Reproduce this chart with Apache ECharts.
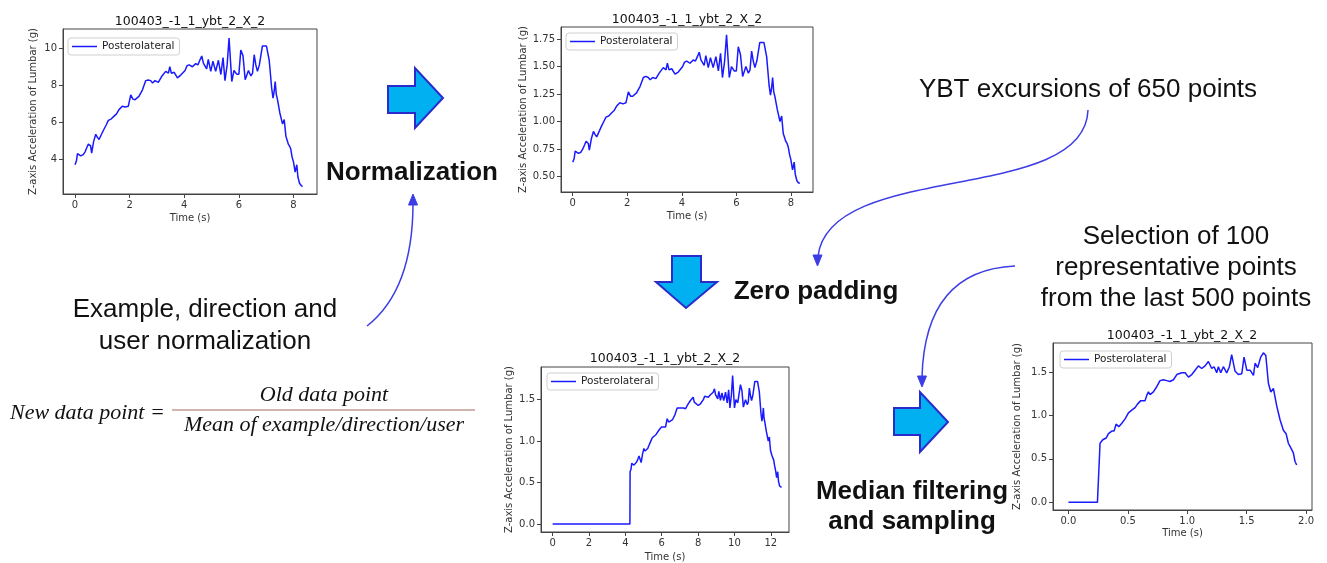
<!DOCTYPE html>
<html>
<head>
<meta charset="utf-8">
<script src="https://cdn.jsdelivr.net/npm/echarts@6/dist/echarts.min.js"></script>
<style>
  html, body { margin: 0; padding: 0; background: #fff; }
  #chart { width: 1327px; height: 563px; }
</style>
</head>
<body>
<div id="chart"></div>
<script>
// ---- labels ----
const panelTitle = '100403_-1_1_ybt_2_X_2';
const seriesName = 'Posterolateral';
const xName = 'Time (s)';
const yName = 'Z-axis Acceleration of Lumbar (g)';

// ---- raw excursion (time in s), shared by the raw and the normalized panel ----
const rawTime = [0.00,0.05,0.09,0.21,0.30,0.37,0.44,0.49,0.57,0.61,0.68,0.76,0.82,0.88,0.97,1.06,1.14,1.22,1.32,1.43,
  1.52,1.61,1.73,1.84,1.95,2.04,2.12,2.20,2.34,2.47,2.59,2.68,2.77,2.84,2.93,3.05,3.17,3.32,3.42,3.47,
  3.53,3.63,3.75,3.87,4.03,4.10,4.18,4.30,4.42,4.50,4.57,4.64,4.70,4.76,4.82,4.88,4.97,5.05,5.15,5.25,
  5.34,5.42,5.49,5.57,5.64,5.74,5.82,5.92,6.00,6.07,6.15,6.23,6.35,6.44,6.50,6.56,6.62,6.68,6.75,6.86,
  7.01,7.11,7.20,7.25,7.29,7.33,7.37,7.41,7.50,7.60,7.66,7.72,7.81,7.86,7.90,7.95,8.00,8.06,8.12,8.16,
  8.22,8.28,8.33];

// raw lumbar z-acceleration (g)
const rawAccel = [3.70,3.90,4.30,4.18,4.25,4.40,4.66,4.82,4.72,4.33,4.95,5.35,5.18,5.07,5.35,5.62,5.85,6.10,6.17,6.33,
  6.45,6.68,6.86,6.82,6.86,7.48,7.25,7.22,7.40,7.75,8.25,8.28,8.25,8.12,8.25,8.15,8.47,8.75,8.65,9.00,
  8.65,8.70,8.40,8.55,8.80,9.05,9.10,9.00,9.17,9.10,9.35,9.58,9.20,9.10,8.88,9.40,8.75,9.30,8.75,9.35,
  8.58,9.50,8.25,9.10,10.55,8.20,8.80,8.60,8.60,9.90,9.60,8.30,8.80,8.50,8.65,9.65,9.10,8.75,9.10,10.12,
  10.12,9.35,7.85,7.30,7.65,8.20,7.50,7.25,6.50,5.90,6.15,5.25,4.82,4.70,4.55,4.10,3.85,3.30,3.70,3.05,
  2.70,2.58,2.52];

// normalized acceleration
const normAccel = [0.63,0.66,0.73,0.71,0.72,0.75,0.79,0.82,0.80,0.74,0.84,0.91,0.88,0.86,0.91,0.96,1.00,1.04,1.05,1.08,
  1.10,1.14,1.17,1.16,1.17,1.27,1.23,1.23,1.26,1.32,1.40,1.41,1.40,1.38,1.40,1.39,1.44,1.49,1.47,1.53,
  1.47,1.48,1.43,1.45,1.50,1.54,1.55,1.53,1.56,1.55,1.59,1.63,1.56,1.55,1.51,1.60,1.49,1.58,1.49,1.59,
  1.46,1.62,1.40,1.55,1.79,1.40,1.50,1.46,1.46,1.68,1.61,1.41,1.50,1.44,1.47,1.64,1.55,1.49,1.55,1.72,
  1.72,1.59,1.33,1.24,1.30,1.40,1.27,1.23,1.11,1.00,1.05,0.89,0.82,0.80,0.77,0.70,0.65,0.56,0.63,0.52,
  0.46,0.44,0.44];

// zero-padded excursion
const paddedTime = [0.00,4.25,
  4.26,4.31,4.35,4.47,4.56,4.63,4.70,4.75,4.83,4.87,4.94,5.02,5.08,5.14,5.23,5.32,5.40,5.48,5.58,5.69,
  5.78,5.87,5.99,6.10,6.21,6.30,6.38,6.46,6.60,6.73,6.85,6.94,7.03,7.10,7.19,7.31,7.43,7.58,7.68,7.73,
  7.79,7.89,8.01,8.13,8.29,8.36,8.44,8.56,8.68,8.76,8.83,8.90,8.96,9.02,9.08,9.14,9.23,9.31,9.41,9.51,
  9.60,9.68,9.75,9.83,9.90,10.00,10.08,10.18,10.26,10.33,10.41,10.49,10.61,10.70,10.76,10.82,10.88,10.94,11.01,11.12,
  11.27,11.37,11.46,11.51,11.55,11.59,11.63,11.67,11.76,11.86,11.92,11.98,12.07,12.12,12.16,12.21,12.26,12.32,12.38,12.42,
  12.48,12.54,12.59];
const paddedAccel = [0,0,
  0.63,0.66,0.73,0.71,0.72,0.75,0.79,0.82,0.80,0.74,0.84,0.91,0.88,0.86,0.91,0.96,1.00,1.04,1.05,1.08,
  1.10,1.14,1.17,1.16,1.17,1.27,1.23,1.23,1.26,1.32,1.40,1.41,1.40,1.38,1.40,1.39,1.44,1.49,1.47,1.53,
  1.47,1.48,1.43,1.45,1.50,1.54,1.55,1.53,1.56,1.55,1.59,1.63,1.56,1.55,1.51,1.60,1.49,1.58,1.49,1.59,
  1.46,1.62,1.40,1.55,1.79,1.40,1.50,1.46,1.46,1.68,1.61,1.41,1.50,1.44,1.47,1.64,1.55,1.49,1.55,1.72,
  1.72,1.59,1.33,1.24,1.30,1.40,1.27,1.23,1.11,1.00,1.05,0.89,0.82,0.80,0.77,0.70,0.65,0.56,0.63,0.52,
  0.46,0.44,0.44];

// median-filtered, sampled excursion
const sampledTime = [0.00,0.244,0.266,0.289,0.317,0.337,0.365,0.384,0.401,0.424,0.449,0.477,0.505,0.533,0.561,0.581,
  0.609,0.645,0.659,0.673,0.687,0.715,0.743,0.771,0.799,0.827,0.855,0.884,0.912,0.954,0.982,1.010,
  1.038,1.066,1.094,1.122,1.150,1.178,1.206,1.226,1.248,1.262,1.282,1.304,1.332,1.355,1.374,1.402,
  1.430,1.459,1.478,1.501,1.529,1.557,1.571,1.593,1.618,1.641,1.661,1.683,1.703,1.725,1.753,1.781,
  1.809,1.832,1.851,1.874,1.893,1.907,1.921];
const sampledAccel = [0,0,0.68,0.72,0.74,0.79,0.82,0.82,0.90,0.87,0.91,0.96,1.03,1.06,1.09,1.13,
  1.17,1.17,1.23,1.27,1.24,1.27,1.33,1.40,1.41,1.40,1.39,1.41,1.47,1.49,1.49,1.44,
  1.47,1.52,1.57,1.54,1.57,1.62,1.54,1.56,1.49,1.56,1.49,1.56,1.49,1.56,1.70,1.51,
  1.47,1.48,1.67,1.52,1.52,1.46,1.60,1.55,1.67,1.72,1.69,1.37,1.27,1.31,1.11,0.95,
  0.83,0.79,0.68,0.62,0.57,0.47,0.43];

// ---- tick values ----
const rawXTicks = [0, 2, 4, 6, 8];
const rawYTicks = [4, 6, 8, 10];
const normXTicks = [0, 2, 4, 6, 8];
const normYTicks = [0.5, 0.75, 1.0, 1.25, 1.5, 1.75];
const padXTicks = [0, 2, 4, 6, 8, 10, 12];
const padYTicks = [0, 0.5, 1.0, 1.5];
const sampXTicks = [0, 0.5, 1.0, 1.5, 2.0];
const sampYTicks = [0, 0.5, 1.0, 1.5];

// ---- annotation texts ----
const stepLabels = ['Normalization', 'Zero padding', 'Median filtering', 'and sampling'];
const noteYbt = 'YBT excursions of 650 points';
const noteSelection = ['Selection of 100', 'representative points', 'from the last 500 points'];
const noteNorm = ['Example, direction and', 'user normalization'];
const formulaLeft = 'New data point =';
const formulaNum = 'Old data point';
const formulaDen = 'Mean of example/direction/user';

const zip = (xs, ys) => xs.map((x, i) => [x, ys[i]]);

const panels = [
  { grid: { left: 63, top: 29, width: 254, height: 165 }, xMin: -0.44, xMax: 8.86, yMin: 2.12, yMax: 11.04,
    xTicks: rawXTicks, yTicks: rawYTicks, xDec: 0, yDec: 0, data: zip(rawTime, rawAccel),
    yGap: 25, xGap: 19, legend: { left: 68, top: 38 } },
  { grid: { left: 561, top: 27, width: 252, height: 165 }, xMin: -0.43, xMax: 8.81, yMin: 0.358, yMax: 1.86,
    xTicks: normXTicks, yTicks: normYTicks, xDec: 0, yDec: 2, data: zip(rawTime, normAccel),
    yGap: 31, xGap: 19, legend: { left: 566, top: 33 } },
  { grid: { left: 541, top: 367, width: 248, height: 165 }, xMin: -0.64, xMax: 13.0, yMin: -0.097, yMax: 1.894,
    xTicks: padXTicks, yTicks: padYTicks, xDec: 0, yDec: 1, data: zip(paddedTime, paddedAccel),
    yGap: 27, xGap: 20, legend: { left: 547, top: 373 } },
  { grid: { left: 1053, top: 343, width: 259, height: 167 }, xMin: -0.13, xMax: 2.05, yMin: -0.088, yMax: 1.833,
    xTicks: sampXTicks, yTicks: sampYTicks, xDec: 1, yDec: 1, data: zip(sampledTime, sampledAccel),
    yGap: 31, xGap: 18, legend: { left: 1060, top: 351 } }
];

const axisColor = '#444';
const labelColor = '#333';
const baseFont = 'DejaVu Sans';
const lineBlue = '#1a1aff';

function makeAxis(i, p, dim) {
  const isX = dim === 'x';
  const ticks = isX ? p.xTicks : p.yTicks;
  const dec = isX ? p.xDec : p.yDec;
  return {
    type: 'value',
    gridIndex: i,
    min: isX ? p.xMin : p.yMin,
    max: isX ? p.xMax : p.yMax,
    name: isX ? xName : yName,
    nameLocation: 'middle',
    nameGap: isX ? p.xGap : p.yGap,
    nameTextStyle: { fontFamily: baseFont, fontSize: 10, color: labelColor },
    axisLine: { show: true, onZero: false, lineStyle: { color: axisColor, width: 1 } },
    axisTick: { show: true, length: 4, inside: false, customValues: ticks, lineStyle: { color: axisColor } },
    axisLabel: {
      customValues: ticks, margin: 6, fontFamily: baseFont, fontSize: 10, color: labelColor,
      formatter: v => Number(v).toFixed(dec)
    },
    splitLine: { show: false }
  };
}

const textColor = '#111';
function label(text, x, y, font, align) {
  return {
    type: 'text', silent: true,
    style: {
      text, x, y, font, fill: textColor,
      align: align || 'center', verticalAlign: 'middle',
      textAlign: align || 'center', textVerticalAlign: 'middle'
    }
  };
}

const blockFill = '#00b0f0';
const blockStroke = '#2b2bcc';
function block(points) {
  return { type: 'polygon', silent: true, shape: { points },
    style: { fill: blockFill, stroke: blockStroke, lineWidth: 2, lineJoin: 'miter' } };
}
const thinBlue = '#3d3de6';
function curve(shape) {
  return { type: 'bezierCurve', silent: true, shape, style: { stroke: thinBlue, lineWidth: 1.5, fill: null } };
}
function head(points) {
  return { type: 'polygon', silent: true, shape: { points }, style: { fill: thinBlue, stroke: thinBlue, lineWidth: 1 } };
}

const boldFont = 'bold 26px "Liberation Sans", Arial, sans-serif';
const plainFont = '26px "Liberation Sans", Arial, sans-serif';
const mathFont = 'italic 22px "Liberation Serif", "Times New Roman", serif';

const graphics = [
  // panel titles
  label(panelTitle, 190, 22, '12.5px "DejaVu Sans"'),
  label(panelTitle, 687, 20, '12.5px "DejaVu Sans"'),
  label(panelTitle, 665, 359, '12.5px "DejaVu Sans"'),
  label(panelTitle, 1182, 336, '12.5px "DejaVu Sans"'),
  // step arrows
  block([[388, 86], [415, 86], [415, 68], [443, 98], [415, 128], [415, 113], [388, 113]]),
  block([[672, 256], [701, 256], [701, 282], [717, 282], [686, 308], [656, 282], [672, 282]]),
  block([[894, 408], [920, 408], [920, 392], [948, 422], [920, 452], [920, 435], [894, 435]]),
  // step names
  label(stepLabels[0], 412, 173, boldFont),
  label(stepLabels[1], 816, 292, boldFont),
  label(stepLabels[2], 912, 492, boldFont),
  label(stepLabels[3], 912, 522, boldFont),
  // notes
  label(noteYbt, 1088, 90, plainFont),
  label(noteSelection[0], 1176, 237, plainFont),
  label(noteSelection[1], 1176, 268, plainFont),
  label(noteSelection[2], 1176, 299, plainFont),
  label(noteNorm[0], 205, 310, plainFont),
  label(noteNorm[1], 205, 342, plainFont),
  // connectors
  curve({ x1: 367, y1: 326, cpx1: 413, cpy1: 290, x2: 413, y2: 203 }),
  head([[413, 194], [408.5, 205], [417.5, 205]]),
  curve({ x1: 1088, y1: 110, cpx1: 1085, cpy1: 205, cpx2: 830, cpy2: 160, x2: 818, y2: 256 }),
  head([[817.5, 266], [813, 255], [822, 255]]),
  curve({ x1: 1015, y1: 266, cpx1: 925, cpy1: 270, x2: 922, y2: 377 }),
  head([[922, 387], [917.5, 376], [926.5, 376]]),
  // normalization formula
  label(formulaLeft, 10, 413, mathFont, 'left'),
  label(formulaNum, 324, 395, mathFont),
  { type: 'line', silent: true, shape: { x1: 172, y1: 410, x2: 475, y2: 410 },
    style: { stroke: '#a56a60', lineWidth: 1.2 } },
  label(formulaDen, 324, 425, mathFont)
];

const option = {
  animation: false,
  backgroundColor: '#fff',
  textStyle: { fontFamily: baseFont },
  grid: panels.map(p => Object.assign({ show: true, borderColor: axisColor, borderWidth: 1, backgroundColor: '#fff' }, p.grid)),
  xAxis: panels.map((p, i) => makeAxis(i, p, 'x')),
  yAxis: panels.map((p, i) => makeAxis(i, p, 'y')),
  legend: panels.map(p => ({
    // plain line swatch, no marker
    data: [{ name: seriesName, icon: 'path://M0,0L50,0L50,3L0,3Z' }],
    selectedMode: false, orient: 'horizontal', symbolKeepAspect: true,
    left: p.legend.left, top: p.legend.top,
    backgroundColor: '#fff', borderColor: '#cfcfcf', borderWidth: 1, borderRadius: 3,
    padding: [3, 5, 3, 4], itemWidth: 25, itemHeight: 10,
    itemStyle: { color: lineBlue, borderWidth: 0 },
    lineStyle: { width: 0 },
    textStyle: { fontFamily: baseFont, fontSize: 10.5, color: '#222' }
  })),
  series: panels.map((p, i) => ({
    name: seriesName, type: 'line', xAxisIndex: i, yAxisIndex: i,
    data: p.data, showSymbol: false, symbol: 'none',
    lineStyle: { color: lineBlue, width: 1.5 }, itemStyle: { color: lineBlue }
  })),
  graphic: { elements: graphics }
};

const chart = echarts.init(document.getElementById('chart'), null, { renderer: 'canvas' });
chart.setOption(option);
</script>
</body>
</html>
